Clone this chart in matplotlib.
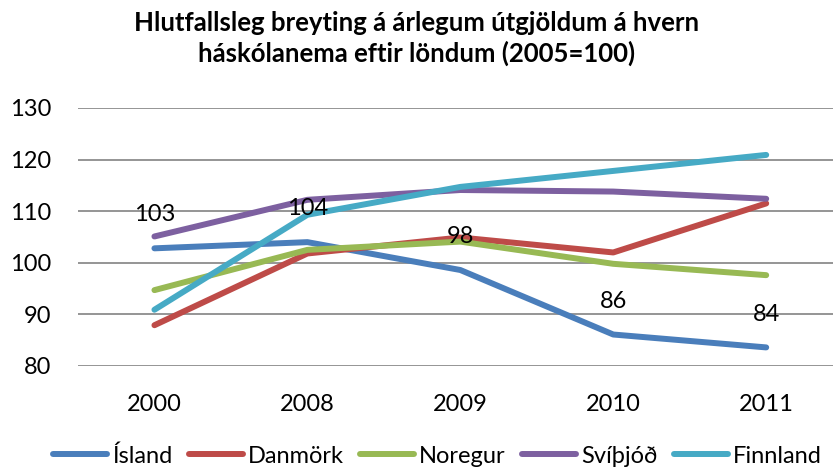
import matplotlib.pyplot as plt

# Data
years = ["2000", "2008", "2009", "2010", "2011"]
island = [102.8, 104.0, 98.6, 86.1, 83.6]
danmork = [87.9, 101.8, 104.9, 102.0, 111.5]
noregur = [94.7, 102.5, 104.1, 99.8, 97.6]
svithjod = [105.1, 112.2, 114.1, 113.8, 112.4]
finnland = [90.9, 109.3, 114.7, 117.8, 120.9]
island_labels = ["103", "104", "98", "86", "84"]

names = ["Ísland", "Danmörk", "Noregur", "Svíþjóð", "Finnland"]
colors = ["#4A7EBB", "#BE4B48", "#98B954", "#7D60A0", "#46AAC5"]
series = [island, danmork, noregur, svithjod, finnland]

plt.rcParams["font.family"] = ["Lato", "DejaVu Sans"]

fig = plt.figure(figsize=(8.33, 4.70), dpi=100)
ax = fig.add_axes([0.0936, 0.2213, 0.918, 0.549])

x = list(range(len(years)))
for vals, name, col in zip(series, names, colors):
    ax.plot(x, vals, color=col, linewidth=4.3, label=name,
            solid_capstyle="round", solid_joinstyle="round")

# labels above the Ísland line
for xi, v, lab in zip(x, island, island_labels):
    ax.annotate(lab, (xi, v), xytext=(0, 24), textcoords="offset points",
                ha="center", va="center", fontsize=17)

ax.set_xlim(-0.5, 4.5)
ax.set_ylim(80, 130)
ax.set_yticks([80, 90, 100, 110, 120, 130])
ax.set_xticks(x)
ax.set_xticklabels(years)
ax.tick_params(axis="both", length=0, labelsize=17)
ax.tick_params(axis="x", pad=20)
ax.tick_params(axis="y", pad=19)
ax.grid(axis="y", color="#8C8C8C", linewidth=1.3)
ax.set_axisbelow(True)
for s in ax.spines.values():
    s.set_visible(False)

fig.text(0.5, 0.918, "Hlutfallsleg breyting á árlegum útgjöldum á hvern\nháskólanema eftir löndum (2005=100)",
         ha="center", va="center", fontsize=18.5, fontweight="bold", linespacing=1.3)

fig.legend(loc="center", bbox_to_anchor=(0.525, 0.03), ncol=5, frameon=False,
           fontsize=17, handlelength=2.3, handletextpad=0.21, columnspacing=0.68)

fig.savefig("out.png", dpi=100)
